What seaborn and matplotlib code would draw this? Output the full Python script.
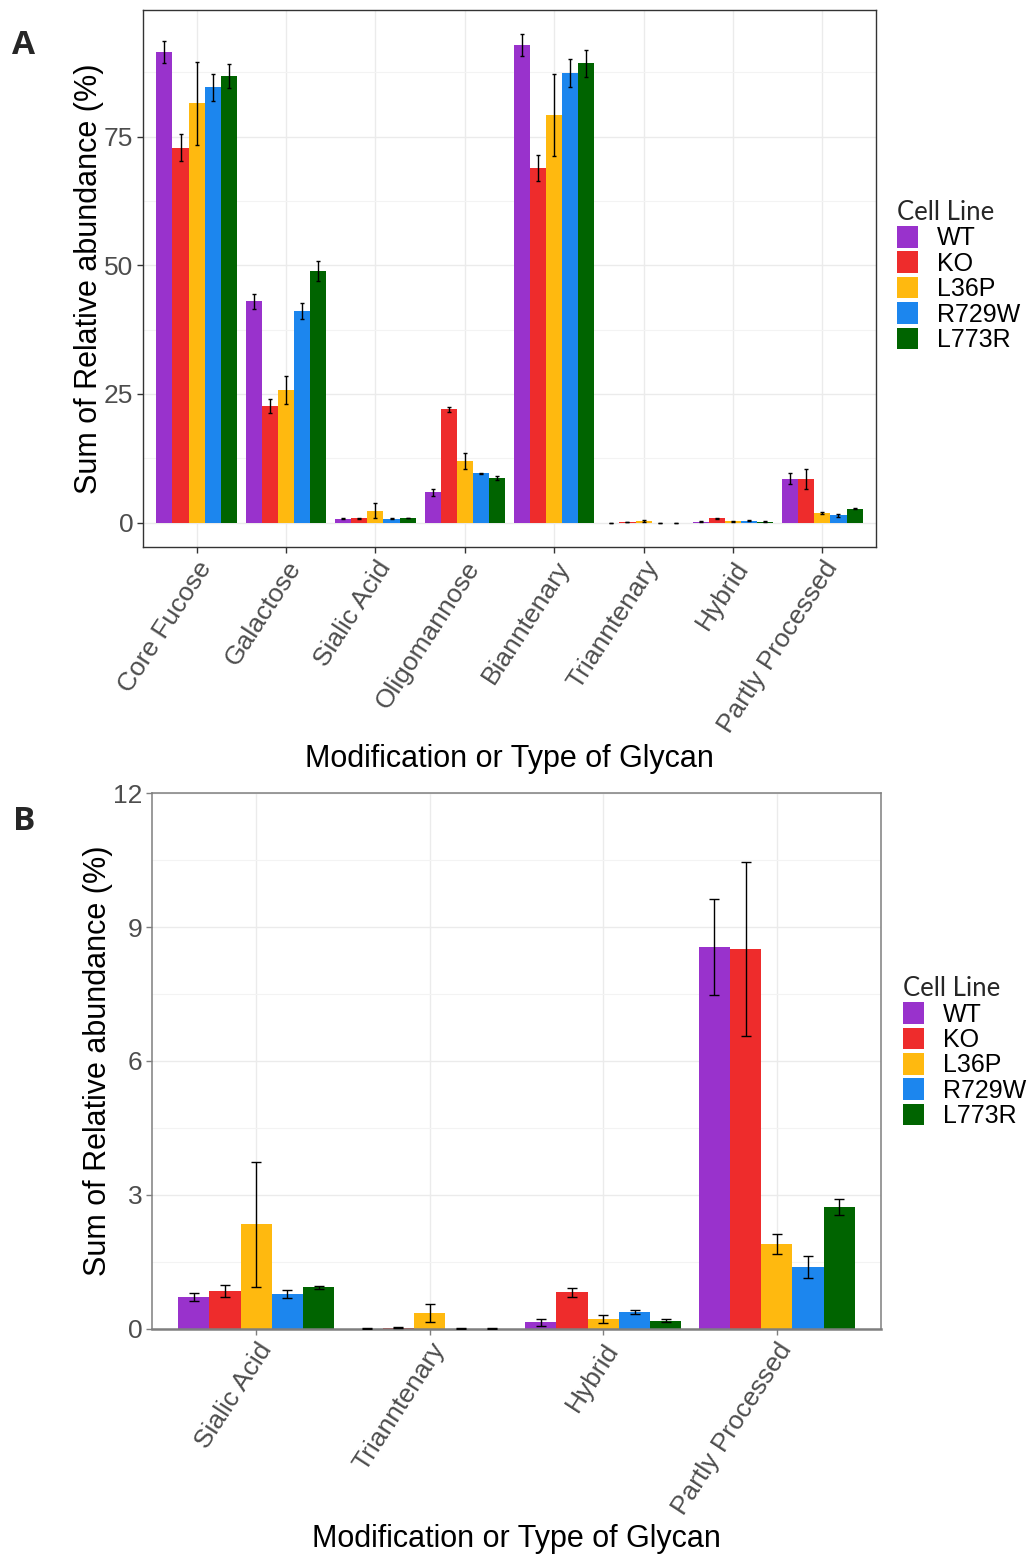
import numpy as np
import pandas as pd
import matplotlib
matplotlib.use("Agg")
import matplotlib.pyplot as plt
import seaborn as sns
from matplotlib.ticker import FixedLocator

# ---------------- data ----------------
categories = ["Core Fucose", "Galactose", "Sialic Acid", "Oligomannose",
              "Bianntenary", "Trianntenary", "Hybrid", "Partly Processed"]
subset_b = ["Sialic Acid", "Trianntenary", "Hybrid", "Partly Processed"]
cell_lines = ["WT", "KO", "L36P", "R729W", "L773R"]
colors = ["#9932CC", "#EE2C2C", "#FFB90F", "#1C86EE", "#006400"]

wt_mean = [91.5, 43.0, 0.72, 5.9, 92.8, 0.01, 0.15, 8.55]
ko_mean = [72.9, 22.7, 0.85, 22.0, 68.9, 0.03, 0.82, 8.51]
l36p_mean = [81.5, 25.8, 2.34, 11.95, 79.3, 0.36, 0.23, 1.90]
r729w_mean = [84.6, 41.1, 0.78, 9.63, 87.4, 0.01, 0.37, 1.39]
l773r_mean = [86.8, 48.9, 0.93, 8.66, 89.3, 0.01, 0.19, 2.73]

wt_se = [2.2, 1.45, 0.09, 0.7, 2.1, 0.005, 0.08, 1.07]
ko_se = [2.6, 1.35, 0.13, 0.5, 2.5, 0.01, 0.10, 1.95]
l36p_se = [8.1, 2.65, 1.40, 1.6, 8.0, 0.21, 0.09, 0.23]
r729w_se = [2.6, 1.55, 0.09, 0.1, 2.7, 0.005, 0.045, 0.25]
l773r_se = [2.4, 1.95, 0.04, 0.45, 2.6, 0.005, 0.04, 0.17]

means = dict(zip(cell_lines, [wt_mean, ko_mean, l36p_mean, r729w_mean, l773r_mean]))
ses = dict(zip(cell_lines, [wt_se, ko_se, l36p_se, r729w_se, l773r_se]))

rows = []
for cl in cell_lines:
    for cat, m, s in zip(categories, means[cl], ses[cl]):
        rows.append(dict(category=cat, cell_line=cl, value=m, se=s))
df = pd.DataFrame(rows)

# ---------------- style ----------------
sns.set_theme(style="white")
plt.rcParams["font.family"] = ["Liberation Sans", "DejaVu Sans"]

W, H = 1032, 1555
fig = plt.figure(figsize=(W / 100, H / 100), dpi=100)
axA = fig.add_axes([143 / W, 1 - 547 / H, 733 / W, 537 / H])
axB = fig.add_axes([152 / W, 1 - 1329 / H, 729 / W, 536 / H])


def draw(ax, cats, ylim, ymajor, yminor, ax_w_px, leg_anchor, ylab_x, xlab_y):
    d = df[df["category"].isin(cats)]
    sns.barplot(data=d, x="category", y="value", hue="cell_line", order=cats,
                hue_order=cell_lines, palette=colors, width=0.9, errorbar=None,
                saturation=1, linewidth=0, ax=ax, zorder=2)
    n = len(cats)
    ax.set_xlim(-0.6, n - 0.4)
    ax.set_ylim(*ylim)
    px_per_unit = ax_w_px / (n + 0.2)
    cap_pt = 0.026 * px_per_unit * 72 / 100
    for container, cl in zip(ax.containers, cell_lines):
        sub = d[d["cell_line"] == cl].set_index("category").loc[cats]
        xs = [p.get_x() + p.get_width() / 2 for p in container.patches]
        ax.errorbar(xs, sub["value"].values, yerr=sub["se"].values, fmt="none",
                    ecolor="black", elinewidth=1.0, capsize=cap_pt, capthick=1.0,
                    zorder=3)
    ax.set_axisbelow(True)
    ax.yaxis.set_major_locator(FixedLocator(ymajor))
    ax.yaxis.set_minor_locator(FixedLocator(yminor))
    ax.grid(which="major", color="#EBEBEB", lw=1.0)
    ax.grid(which="minor", axis="y", color="#F3F3F3", lw=0.8)
    ax.tick_params(axis="both", which="major", bottom=True, left=True, length=4,
                   width=1, color="#333333", labelcolor="#4D4D4D", labelsize=19,
                   direction="out", pad=3)
    ax.tick_params(axis="both", which="minor", length=0)
    ax.set_xticks(range(n))
    ax.set_xticklabels(cats, rotation=57, ha="right", va="top",
                       rotation_mode="anchor")
    ax.set_yticklabels([f"{v:g}" for v in ymajor])
    ax.set_xlabel("Modification or Type of Glycan", fontsize=22, color="black")
    ax.set_ylabel("Sum of Relative abundance (%)", fontsize=22, color="black")
    ax.xaxis.set_label_coords(0.5, xlab_y)
    ax.yaxis.set_label_coords(ylab_x, 0.5)
    sns.move_legend(ax, "upper left", bbox_to_anchor=leg_anchor, frameon=False,
                    title="Cell Line", fontsize=18, title_fontsize=18.5,
                    handlelength=0.85, handleheight=0.95, labelspacing=0.04,
                    handletextpad=0.75, borderpad=0, borderaxespad=0,
                    alignment="left")
    leg = ax.get_legend()
    leg.get_title().set_fontfamily(["Lato", "DejaVu Sans"])
    for t in leg.get_texts():
        t.set_color("black")


topA = max(m + s for cl in cell_lines for m, s in zip(means[cl], ses[cl]))
padA = 0.05 * topA
draw(axA, categories, (-padA, topA + padA), [0, 25, 50, 75],
     [12.5, 37.5, 62.5, 87.5], 733, (1.028, 0.646), -0.053, -0.366)
draw(axB, subset_b, (0, 12), [0, 3, 6, 9, 12], [1.5, 4.5, 7.5, 10.5], 729,
     (1.030, 0.658), -0.053, -0.363)

for sp in axA.spines.values():
    sp.set_visible(True)
    sp.set_color("#333333")
    sp.set_linewidth(1.0)
for name, sp in axB.spines.items():
    sp.set_visible(True)
    sp.set_color("#7F7F7F")
    sp.set_linewidth(1.8 if name == "bottom" else 1.1)
axB.tick_params(axis="both", which="major", color="#7F7F7F")

fig.text(24 / W, 1 - 46 / H, "A", fontsize=24, fontweight="bold", ha="center",
         va="center", family=["Open Sans", "DejaVu Sans"])
fig.text(24 / W, 1 - 822 / H, "B", fontsize=24, fontweight="bold", ha="center",
         va="center", family=["Open Sans", "DejaVu Sans"])

fig.savefig("out.png", dpi=100)
